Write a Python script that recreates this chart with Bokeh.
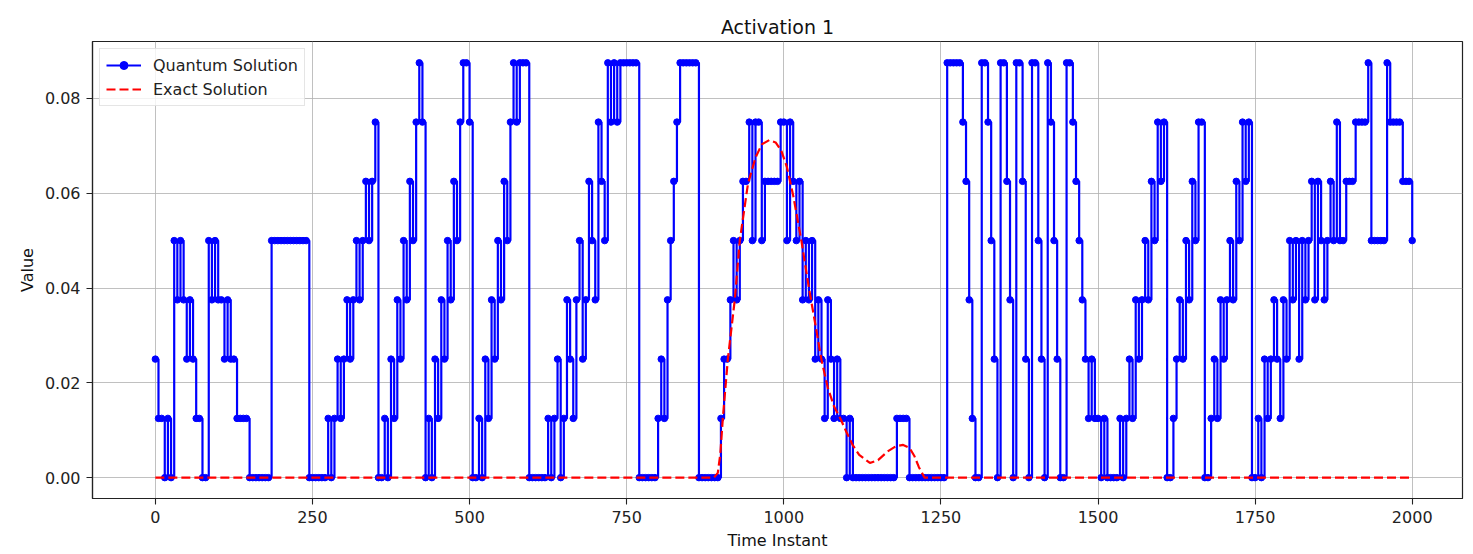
from bokeh.plotting import figure
from bokeh.models import (Range1d, FixedTicker, NumeralTickFormatter, Legend,
                          LegendItem, ColumnDataSource)
from bokeh.embed import file_html
from bokeh.resources import INLINE

# ---------------- data ----------------
title_text = "Activation 1"
x_label = "Time Instant"
y_label = "Value"
series_names = ["Quantum Solution", "Exact Solution"]

# time instants sampled every 5 units, 0..2000
quantum_time = list(range(0, 2001, 5))

quantum_values = [
    # 0-95
    0.025, 0.0125, 0.0125, 0.0, 0.0125, 0.0, 0.05, 0.0375, 0.05, 0.0375,
    0.025, 0.0375, 0.025, 0.0125, 0.0125, 0.0, 0.0, 0.05, 0.0375, 0.05,
    # 100-195
    0.0375, 0.0375, 0.025, 0.0375, 0.025, 0.025, 0.0125, 0.0125, 0.0125, 0.0125,
    0.0, 0.0, 0.0, 0.0, 0.0, 0.0, 0.0, 0.05, 0.05, 0.05,
    # 200-295
    0.05, 0.05, 0.05, 0.05, 0.05, 0.05, 0.05, 0.05, 0.05, 0.0,
    0.0, 0.0, 0.0, 0.0, 0.0, 0.0125, 0.0, 0.0125, 0.025, 0.0125,
    # 300-395
    0.025, 0.0375, 0.025, 0.0375, 0.05, 0.0375, 0.05, 0.0625, 0.05, 0.0625,
    0.075, 0.0, 0.0, 0.0125, 0.0, 0.025, 0.0125, 0.0375, 0.025, 0.05,
    # 400-495
    0.0375, 0.0625, 0.05, 0.075, 0.0875, 0.075, 0.0, 0.0125, 0.0, 0.025,
    0.0125, 0.0375, 0.025, 0.05, 0.0375, 0.0625, 0.05, 0.075, 0.0875, 0.0875,
    # 500-595
    0.075, 0.0, 0.0, 0.0125, 0.0, 0.025, 0.0125, 0.0375, 0.025, 0.05,
    0.0375, 0.0625, 0.05, 0.075, 0.0875, 0.075, 0.0875, 0.0875, 0.0875, 0.0,
    # 600-695
    0.0, 0.0, 0.0, 0.0, 0.0, 0.0125, 0.0, 0.0125, 0.025, 0.0,
    0.0125, 0.0375, 0.025, 0.0125, 0.0375, 0.05, 0.025, 0.0375, 0.0625, 0.05,
    # 700-795
    0.0375, 0.075, 0.0625, 0.05, 0.0875, 0.075, 0.0875, 0.075, 0.0875, 0.0875,
    0.0875, 0.0875, 0.0875, 0.0875, 0.0, 0.0, 0.0, 0.0, 0.0, 0.0,
    # 800-895
    0.0125, 0.025, 0.0125, 0.0375, 0.05, 0.0625, 0.075, 0.0875, 0.0875, 0.0875,
    0.0875, 0.0875, 0.0875, 0.0, 0.0, 0.0, 0.0, 0.0, 0.0, 0.0,
    # 900-995
    0.0125, 0.025, 0.025, 0.0375, 0.05, 0.0375, 0.05, 0.0625, 0.0625, 0.075,
    0.05, 0.075, 0.075, 0.05, 0.0625, 0.0625, 0.0625, 0.0625, 0.0625, 0.075,
    # 1000-1095
    0.075, 0.05, 0.075, 0.0625, 0.05, 0.0625, 0.0375, 0.05, 0.0375, 0.05,
    0.025, 0.0375, 0.025, 0.0125, 0.0375, 0.025, 0.0125, 0.025, 0.0125, 0.0125,
    # 1100-1195
    0.0, 0.0125, 0.0, 0.0, 0.0, 0.0, 0.0, 0.0, 0.0, 0.0,
    0.0, 0.0, 0.0, 0.0, 0.0, 0.0, 0.0125, 0.0125, 0.0125, 0.0125,
    # 1200-1295
    0.0, 0.0, 0.0, 0.0, 0.0, 0.0, 0.0, 0.0, 0.0, 0.0,
    0.0, 0.0, 0.0875, 0.0875, 0.0875, 0.0875, 0.0875, 0.075, 0.0625, 0.0375,
    # 1300-1395
    0.0125, 0.0, 0.0, 0.0875, 0.0875, 0.075, 0.05, 0.025, 0.0, 0.0875,
    0.0875, 0.0625, 0.0375, 0.0, 0.0875, 0.0875, 0.0625, 0.025, 0.0, 0.0875,
    # 1400-1495
    0.0875, 0.05, 0.025, 0.0, 0.0875, 0.075, 0.05, 0.025, 0.0, 0.0,
    0.0875, 0.0875, 0.075, 0.0625, 0.05, 0.0375, 0.025, 0.0125, 0.025, 0.0125,
    # 1500-1595
    0.0125, 0.0, 0.0125, 0.0, 0.0, 0.0, 0.0, 0.0125, 0.0, 0.0125,
    0.025, 0.0125, 0.0375, 0.025, 0.0375, 0.05, 0.0375, 0.0625, 0.05, 0.075,
    # 1600-1695
    0.0625, 0.075, 0.0, 0.0, 0.0125, 0.025, 0.0375, 0.025, 0.05, 0.0375,
    0.0625, 0.05, 0.075, 0.075, 0.0, 0.0, 0.0125, 0.025, 0.0125, 0.0375,
    # 1700-1795
    0.025, 0.0375, 0.05, 0.0375, 0.0625, 0.05, 0.075, 0.0625, 0.075, 0.0,
    0.0, 0.0125, 0.0, 0.025, 0.0125, 0.025, 0.0375, 0.025, 0.0125, 0.0375,
    # 1800-1895
    0.025, 0.05, 0.0375, 0.05, 0.025, 0.05, 0.0375, 0.05, 0.0625, 0.0375,
    0.0625, 0.05, 0.0375, 0.05, 0.0625, 0.05, 0.075, 0.05, 0.05, 0.0625,
    # 1900-2000
    0.0625, 0.0625, 0.075, 0.075, 0.075, 0.075, 0.0875, 0.05, 0.05, 0.05,
    0.05, 0.05, 0.0875, 0.075, 0.075, 0.075, 0.075, 0.0625, 0.0625, 0.0625,
    0.05,
]

exact_time = [0, 889, 895, 899, 903, 911, 922, 930, 943, 955, 965, 977, 987,
              996, 1005, 1015, 1028, 1040, 1050, 1060, 1070, 1080, 1091, 1100,
              1110, 1120, 1137, 1150, 1165, 1178, 1190, 1200, 1208, 1215,
              1224, 2000]
exact_values = [0.0, 0.0, 0.001, 0.005, 0.0125, 0.025, 0.0375, 0.05, 0.062,
                0.0675, 0.0703, 0.0712, 0.0707, 0.069, 0.0655, 0.0595, 0.05,
                0.04, 0.0325, 0.0248, 0.019, 0.015, 0.0122, 0.0095, 0.0068,
                0.0048, 0.0031, 0.0037, 0.0055, 0.0066, 0.0069, 0.0063,
                0.0045, 0.0022, 0.0, 0.0]

x_ticks = [0, 250, 500, 750, 1000, 1250, 1500, 1750, 2000]
y_ticks = [0.0, 0.02, 0.04, 0.06, 0.08]

# ---------------- figure ----------------
FONT = "DejaVu Sans"

p = figure(width=1466, height=554,
           x_range=Range1d(-100, 2080), y_range=Range1d(-0.0044, 0.092),
           output_backend="svg", toolbar_location=None,
           min_border_left=92, min_border_right=4,
           min_border_top=41, min_border_bottom=56)

p.title.text = title_text
p.title.align = "center"
p.title.offset = 7
p.title.text_font = FONT
p.title.text_font_size = "19px"
p.title.text_font_style = "normal"
p.title.text_color = "#111111"
p.title.standoff = 8

p.background_fill_color = "white"
p.border_fill_color = "white"
p.outline_line_color = "#222222"
p.outline_line_width = 1.2

for ax in (p.xaxis[0], p.yaxis[0]):
    ax.axis_line_color = "#222222"
    ax.axis_line_width = 1.2
    ax.major_tick_line_color = "#222222"
    ax.major_tick_line_width = 1.1
    ax.major_tick_in = 0
    ax.major_tick_out = 6
    ax.minor_tick_line_color = None
    ax.major_label_standoff = 6
    ax.major_label_text_font = FONT
    ax.major_label_text_font_size = "16px"
    ax.major_label_text_color = "#222222"
    ax.axis_label_text_font = FONT
    ax.axis_label_text_font_size = "16px"
    ax.axis_label_text_font_style = "normal"
    ax.axis_label_text_color = "#111111"

p.xaxis.axis_label = x_label
p.yaxis.axis_label = y_label
p.xaxis.axis_label_standoff = 5
p.yaxis.axis_label_standoff = 5
p.xaxis.ticker = FixedTicker(ticks=x_ticks)
p.yaxis.ticker = FixedTicker(ticks=y_ticks)
p.yaxis.formatter = NumeralTickFormatter(format="0.00")

p.xgrid.grid_line_color = "#b0b0b0"
p.ygrid.grid_line_color = "#b0b0b0"
p.xgrid.grid_line_width = 1
p.ygrid.grid_line_width = 1
p.xgrid.grid_line_alpha = 0.8
p.ygrid.grid_line_alpha = 0.8

qsrc = ColumnDataSource(dict(t=quantum_time, v=quantum_values))
esrc = ColumnDataSource(dict(t=exact_time, v=exact_values))

q_line = p.step("t", "v", source=qsrc, mode="after", line_color="#0000ff",
                line_width=2.2)
q_pts = p.scatter("t", "v", source=qsrc, size=6.5, marker="circle",
                  fill_color="#0000ff", line_color="#0000ff")
e_line = p.line("t", "v", source=esrc, line_color="#ff0000", line_width=2.2,
                line_dash="9 4")

legend = Legend(items=[
    LegendItem(label=series_names[0], renderers=[q_line, q_pts]),
    LegendItem(label=series_names[1], renderers=[e_line]),
], location="top_left")
legend.label_text_font = FONT
legend.label_text_font_size = "16px"
legend.label_text_color = "#222222"
legend.glyph_width = 35
legend.glyph_height = 20
legend.label_height = 20
legend.label_standoff = 12
legend.spacing = 4
legend.padding = 6
legend.margin = 7
legend.border_line_color = "#cccccc"
legend.border_line_width = 1
legend.background_fill_color = "white"
legend.background_fill_alpha = 0.8
p.add_layout(legend)

open("out.html", "w").write(file_html(p, INLINE))
